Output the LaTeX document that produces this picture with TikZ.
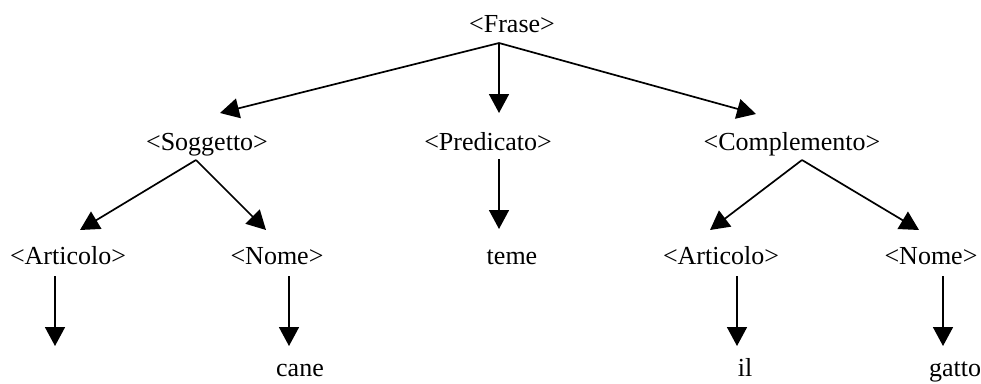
\documentclass[tikz,border=0pt]{standalone}
\usepackage{fontspec}
\setmainfont{Liberation Serif}
\usetikzlibrary{arrows.meta}
\begin{document}
\begin{tikzpicture}[x=1pt,y=-1pt,
  lbl/.style={anchor=base,inner sep=0pt,font=\fontsize{26}{30}\selectfont},
  arr/.style={line width=1.7pt,-{Triangle[length=19pt,width=20pt]}}]
\useasboundingbox[fill=white] (0,0) rectangle (981,383);
% labels
\node[lbl] (frase) at (512,32) {<Frase>};
\node[lbl] (sogg) at (207,150) {<Soggetto>};
\node[lbl] (pred) at (488,150) {<Predicato>};
\node[lbl] (comp) at (792,150) {<Complemento>};
\node[lbl] (art1) at (68,264) {<Articolo>};
\node[lbl] (nome1) at (277,264) {<Nome>};
\node[lbl] (teme) at (512,264) {teme};
\node[lbl] (art2) at (721,264) {<Articolo>};
\node[lbl] (nome2) at (931,264) {<Nome>};
\node[lbl] (cane) at (300,376) {cane};
\node[lbl] (il) at (745,376) {il};
\node[lbl] (gatto) at (955,376) {gatto};
% connector points
\coordinate (fraseA) at (499,43);
\coordinate (soggT) at (220,113);
\coordinate (predT) at (499,113);
\coordinate (compT) at (756,114);
\coordinate (soggA) at (196,160);
\coordinate (art1T) at (80,230);
\coordinate (nome1T) at (266,230);
\coordinate (predA) at (499,159);
\coordinate (temeT) at (499,229);
\coordinate (compA) at (802,160);
\coordinate (art2T) at (710,230);
\coordinate (nome2T) at (919,230);
\coordinate (art1A) at (55,276);
\coordinate (art1W) at (55,346);
\coordinate (nome1A) at (289,276);
\coordinate (caneT) at (289,346);
\coordinate (art2A) at (737,276);
\coordinate (ilT) at (737,346);
\coordinate (nome2A) at (943,276);
\coordinate (gattoT) at (943,346);
% connectors
\draw[arr] (fraseA) -- (soggT);
\draw[arr] (fraseA) -- (predT);
\draw[arr] (fraseA) -- (compT);
\draw[arr] (soggA) -- (art1T);
\draw[arr] (soggA) -- (nome1T);
\draw[arr] (predA) -- (temeT);
\draw[arr] (compA) -- (art2T);
\draw[arr] (compA) -- (nome2T);
\draw[arr] (art1A) -- (art1W);
\draw[arr] (nome1A) -- (caneT);
\draw[arr] (art2A) -- (ilT);
\draw[arr] (nome2A) -- (gattoT);
\end{tikzpicture}
\end{document}
